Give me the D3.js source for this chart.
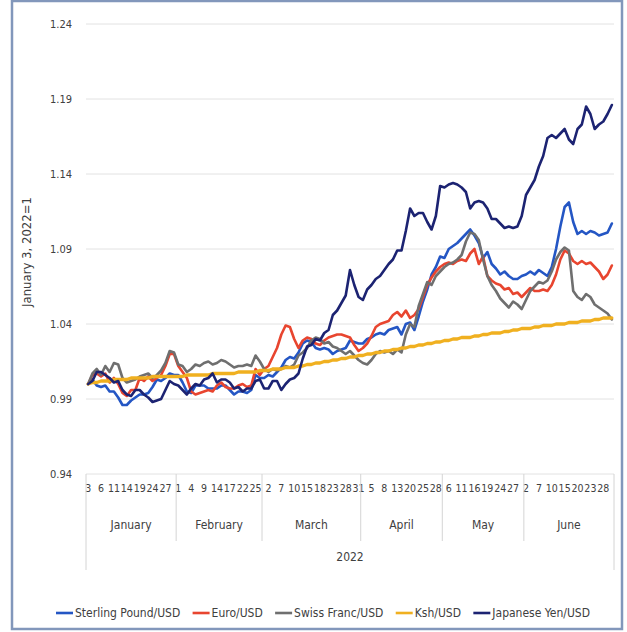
<!DOCTYPE html>
<html>
<head>
<meta charset="utf-8">
<script src="https://cdnjs.cloudflare.com/ajax/libs/d3/7.8.5/d3.min.js"></script>
<style>
  html, body { margin: 0; padding: 0; background: #ffffff; }
  svg { display: block; }
  text { font-family: 'Liberation Sans Narrow', 'DejaVu Sans Condensed', 'Arial Narrow', sans-serif; fill: #404040; }
</style>
</head>
<body>
<svg id="chart" width="627" height="632"></svg>
<script>
// Trading days, 2022, grouped by month
const monthNames = ["January", "February", "March", "April", "May", "June"];
const tradingDays = [
  [3,4,5,6,7,10,11,12,13,14,17,18,19,20,21,24,25,26,27,28,31],
  [1,2,3,4,7,8,9,10,11,14,15,16,17,18,21,22,23,24,25,28],
  [1,2,3,4,7,8,9,10,11,14,15,16,17,18,21,22,23,24,25,28,29,30,31],
  [1,4,5,6,7,8,11,12,13,14,19,20,21,22,25,26,27,28,29],
  [5,6,9,10,11,12,13,16,17,18,19,20,23,24,25,26,27,30,31],
  [2,3,6,7,8,9,10,13,14,15,16,17,20,21,22,23,24,27,28,29,30]
];
const yearLabel = "2022";
const yTicks = [0.94, 0.99, 1.04, 1.09, 1.14, 1.19, 1.24];

// Exchange rate indices (January 3, 2022 = 1)
const sterling = [
  1.000,1.003,0.999,0.998,0.999,0.995,0.995,0.991,0.986,0.986,0.989,0.991,0.993,0.993,0.994,0.998,1.003,1.002,1.004,1.007,1.006,
  1.006,1.001,0.995,0.994,0.999,0.999,0.999,0.997,0.997,0.997,0.999,0.999,0.996,0.993,0.995,0.995,0.994,0.996,1.006,1.004,
  1.004,1.006,1.005,1.008,1.011,1.016,1.018,1.017,1.021,1.027,1.029,1.028,1.024,1.023,1.024,1.023,1.020,1.022,1.023,1.024,1.029,1.028,1.027,
  1.027,1.030,1.031,1.033,1.034,1.033,1.036,1.037,1.038,1.033,1.040,1.041,1.036,1.045,1.055,1.063,1.073,1.078,1.085,
  1.084,1.090,1.092,1.094,1.097,1.100,1.103,1.099,1.094,1.084,1.088,1.080,1.077,1.073,1.075,1.072,1.070,1.070,1.072,
  1.073,1.075,1.073,1.076,1.074,1.072,1.078,1.090,1.105,1.118,1.121,1.108,1.100,1.102,1.100,1.102,1.101,1.099,1.100,1.101,1.107
];
const euro = [
  1.000,1.006,1.007,1.005,1.007,1.001,1.004,1.000,0.994,0.992,0.996,0.996,1.004,1.002,1.005,1.002,1.004,1.006,1.012,1.020,1.020,
  1.012,1.008,1.004,0.995,0.993,0.994,0.995,0.996,0.995,0.999,1.001,0.998,0.997,0.997,0.999,1.000,0.998,0.999,1.010,1.006,
  1.010,1.012,1.018,1.024,1.033,1.039,1.038,1.030,1.024,1.029,1.031,1.030,1.027,1.026,1.029,1.031,1.032,1.033,1.033,1.032,1.031,1.026,1.022,
  1.024,1.027,1.032,1.038,1.040,1.041,1.042,1.046,1.048,1.045,1.049,1.044,1.046,1.050,1.058,1.066,1.071,1.075,1.078,
  1.080,1.081,1.080,1.082,1.083,1.082,1.087,1.090,1.080,1.085,1.072,1.069,1.067,1.066,1.063,1.064,1.060,1.061,1.058,
  1.061,1.064,1.062,1.062,1.063,1.062,1.066,1.073,1.083,1.089,1.087,1.082,1.080,1.082,1.080,1.081,1.078,1.075,1.070,1.073,1.079
];
const swissFranc = [
  1.000,1.007,1.010,1.006,1.012,1.008,1.014,1.013,1.004,1.001,1.002,1.003,1.005,1.006,1.007,1.004,1.006,1.009,1.014,1.022,1.021,
  1.013,1.012,1.008,1.010,1.013,1.012,1.014,1.015,1.013,1.014,1.016,1.015,1.013,1.011,1.012,1.012,1.013,1.012,1.019,1.015,
  1.010,1.008,1.010,1.009,1.010,1.012,1.011,1.013,1.019,1.021,1.024,1.029,1.031,1.030,1.027,1.028,1.025,1.024,1.022,1.020,1.022,1.019,1.016,
  1.014,1.013,1.016,1.020,1.022,1.021,1.022,1.020,1.023,1.021,1.033,1.040,1.038,1.052,1.060,1.068,1.066,1.072,1.075,
  1.078,1.080,1.081,1.083,1.086,1.095,1.101,1.100,1.096,1.083,1.072,1.066,1.062,1.057,1.054,1.051,1.055,1.053,1.050,
  1.056,1.062,1.065,1.068,1.067,1.069,1.075,1.083,1.088,1.091,1.089,1.062,1.058,1.056,1.060,1.058,1.053,1.051,1.049,1.047,1.043
];
const ksh = [
  1.000,1.001,1.001,1.002,1.002,1.002,1.003,1.003,1.003,1.003,1.004,1.004,1.004,1.004,1.004,1.005,1.005,1.005,1.005,1.005,1.005,
  1.005,1.005,1.006,1.006,1.006,1.006,1.006,1.006,1.007,1.007,1.007,1.007,1.007,1.007,1.008,1.008,1.008,1.008,1.008,1.009,
  1.009,1.009,1.010,1.010,1.010,1.011,1.011,1.011,1.012,1.012,1.013,1.013,1.014,1.014,1.015,1.015,1.016,1.016,1.017,1.017,1.018,1.018,1.019,
  1.019,1.020,1.020,1.021,1.021,1.022,1.022,1.023,1.023,1.024,1.024,1.025,1.025,1.026,1.026,1.027,1.027,1.028,1.028,
  1.029,1.029,1.030,1.030,1.031,1.031,1.031,1.032,1.032,1.033,1.033,1.034,1.034,1.034,1.035,1.035,1.036,1.036,1.037,
  1.037,1.037,1.038,1.038,1.039,1.039,1.039,1.040,1.040,1.040,1.041,1.041,1.041,1.042,1.042,1.042,1.043,1.043,1.044,1.044,1.044
];
const yen = [
  1.000,1.002,1.008,1.008,1.006,1.004,1.001,1.002,0.996,0.993,0.992,0.996,0.996,0.993,0.991,0.988,0.989,0.990,0.996,1.002,1.000,
  0.999,0.996,0.993,0.997,1.000,0.999,1.003,1.004,1.007,1.001,1.003,1.003,1.001,0.997,0.998,0.995,0.997,0.997,1.002,1.003,
  0.997,0.997,1.002,1.002,0.996,1.000,1.003,1.004,1.007,1.017,1.025,1.026,1.030,1.029,1.034,1.036,1.046,1.049,1.054,1.059,1.076,1.066,1.058,
  1.056,1.063,1.066,1.070,1.072,1.076,1.080,1.083,1.089,1.089,1.102,1.117,1.112,1.114,1.114,1.108,1.103,1.112,1.132,
  1.131,1.133,1.134,1.133,1.131,1.128,1.117,1.121,1.122,1.121,1.117,1.110,1.110,1.107,1.104,1.105,1.104,1.105,1.112,
  1.126,1.131,1.136,1.145,1.152,1.164,1.166,1.164,1.167,1.170,1.163,1.160,1.170,1.173,1.185,1.180,1.170,1.173,1.175,1.180,1.186
];

const seriesNames = ["Sterling Pound/USD", "Euro/USD", "Swiss Franc/USD", "Ksh/USD", "Japanese Yen/USD"];
const seriesValues = [sterling, euro, swissFranc, ksh, yen];
const seriesColors = ["#2456c4", "#e8452f", "#6f6f6f", "#f0b020", "#1c2372"];
const seriesWidths = [2.6, 2.6, 2.6, 3.3, 2.6];

// Flatten the day list into one category per trading day
const days = [];
tradingDays.forEach((list, m) => list.forEach(d => days.push({ month: m, day: d })));

const svg = d3.select("#chart");
const plot = { left: 86, right: 614, top: 24, bottom: 474 };

// Outer chart frame
svg.append("rect")
  .attr("x", 12).attr("y", 1).attr("width", 610).attr("height", 628)
  .attr("fill", "#ffffff").attr("stroke", "#8297bb").attr("stroke-width", 2.5);

const x = d3.scaleBand().domain(d3.range(days.length)).range([plot.left, plot.right]).padding(0);
const y = d3.scaleLinear().domain([0.94, 1.24]).range([plot.bottom, plot.top]);
const cx = i => x(i) + x.bandwidth() / 2;

// Horizontal gridlines
svg.append("g").selectAll("line").data(yTicks).join("line")
  .attr("x1", plot.left).attr("x2", plot.right)
  .attr("y1", d => y(d)).attr("y2", d => y(d))
  .attr("stroke", "#e2e2e2").attr("stroke-width", 1);

// Y axis labels
const yAxis = d3.axisLeft(y).tickValues(yTicks).tickSize(0).tickPadding(0).tickFormat(d3.format(".2f"));
const yg = svg.append("g").attr("transform", `translate(${plot.left - 14},0)`).call(yAxis);
yg.select(".domain").remove();
yg.selectAll("text").attr("font-size", 11).attr("fill", "#4a4a4a")
  .style("font-family", "'Liberation Sans Narrow','DejaVu Sans Condensed',sans-serif");

svg.append("text")
  .attr("transform", "translate(31,252) rotate(-90)")
  .attr("text-anchor", "middle").attr("font-size", 13).attr("fill", "#3a3a3a")
  .text("January 3, 2022=1");

// Category axis: day labels every third trading day
const dayAxis = d3.axisBottom(x).tickValues(d3.range(0, days.length, 3)).tickSize(0).tickPadding(0)
  .tickFormat(i => days[i].day);
const xg = svg.append("g").attr("transform", `translate(0,${plot.bottom + 11})`).call(dayAxis);
xg.select(".domain").remove();
xg.selectAll("text").attr("font-size", 10.5).attr("fill", "#333333")
  .style("font-family", "'Liberation Sans Narrow','DejaVu Sans Condensed',sans-serif");

// Month groups
const monthStarts = [];
let acc = 0;
tradingDays.forEach(list => { monthStarts.push(acc); acc += list.length; });
const sepColor = "#d4d4d4";
monthStarts.slice(1).forEach(s => {
  svg.append("line").attr("x1", x(s)).attr("x2", x(s))
    .attr("y1", plot.bottom).attr("y2", 541).attr("stroke", sepColor);
});
[plot.left, plot.right].forEach(px => {
  svg.append("line").attr("x1", px).attr("x2", px)
    .attr("y1", plot.bottom).attr("y2", 570).attr("stroke", sepColor);
});
monthNames.forEach((name, m) => {
  const a = x(monthStarts[m]);
  const b = m + 1 < monthStarts.length ? x(monthStarts[m + 1]) : plot.right;
  svg.append("text").attr("x", (a + b) / 2).attr("y", 529)
    .attr("text-anchor", "middle").attr("font-size", 12).text(name);
});
svg.append("text").attr("x", (plot.left + plot.right) / 2).attr("y", 561)
  .attr("text-anchor", "middle").attr("font-size", 12).text(yearLabel);

// Series lines
const line = d3.line().x((d, i) => cx(i)).y(d => y(d));
const lines = svg.append("g");
seriesValues.forEach((vals, s) => {
  lines.append("path").datum(vals)
    .attr("fill", "none").attr("stroke", seriesColors[s]).attr("stroke-width", seriesWidths[s])
    .attr("stroke-linejoin", "round").attr("stroke-linecap", "round")
    .attr("d", line);
});

// Legend: entries laid out in a row spanning the chart's lower edge
const legendStart = 56, legendEnd = 590, swatch = 17, swatchGap = 2;
const legend = svg.append("g").attr("transform", "translate(0,613)");
const entries = seriesNames.map((name, s) => {
  const g = legend.append("g");
  g.append("line").attr("x1", 0).attr("x2", swatch).attr("y1", 0).attr("y2", 0)
    .attr("stroke", seriesColors[s]).attr("stroke-width", 2.6);
  const t = g.append("text").attr("x", swatch + swatchGap).attr("y", 4).attr("font-size", 12).text(name);
  return { g, w: swatch + swatchGap + t.node().getComputedTextLength() };
});
const totalW = d3.sum(entries, e => e.w);
const gap = Math.max(6, (legendEnd - legendStart - totalW) / (entries.length - 1));
let lx = legendStart;
entries.forEach(e => { e.g.attr("transform", `translate(${lx},0)`); lx += e.w + gap; });
</script>
</body>
</html>
